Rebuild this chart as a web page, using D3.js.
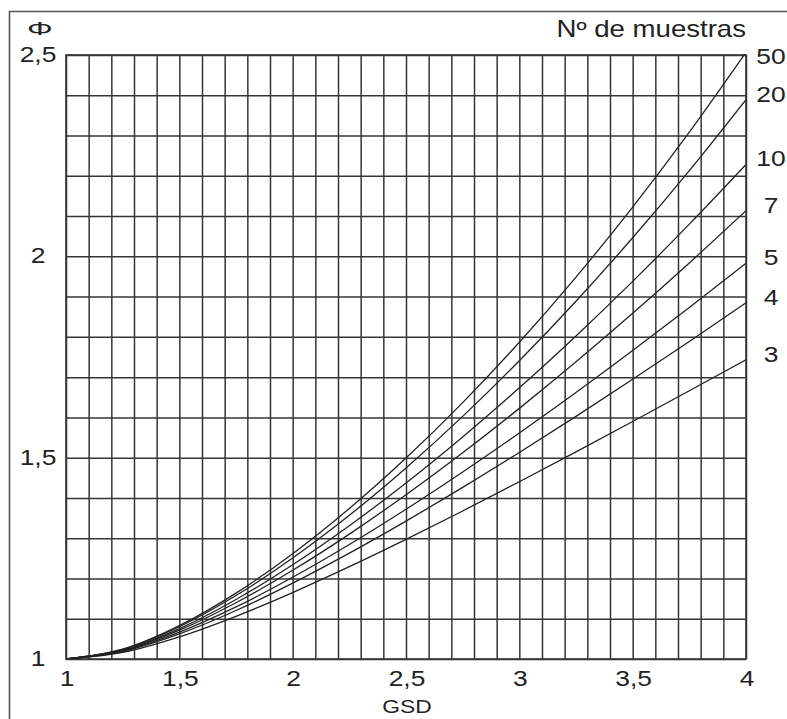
<!DOCTYPE html>
<html>
<head>
<meta charset="utf-8">
<script src="https://cdn.jsdelivr.net/npm/d3@7"></script>
<style>
  body { margin: 0; background: #fff; }
  svg { display: block; }
</style>
</head>
<body>
<svg id="chart" width="787" height="719"></svg>
<script>
// GSD values at which the curves are sampled
const gsd = [1, 1.25, 1.5, 1.75, 2, 2.25, 2.5, 2.75, 3, 3.25, 3.5, 3.75, 4];

// Φ for each number of samples
const phiN3  = [1, 1.0165, 1.0550, 1.1061, 1.1650, 1.2292, 1.2971, 1.3676, 1.4402, 1.5144, 1.5897, 1.6661, 1.7433];
const phiN4  = [1, 1.0186, 1.0622, 1.1204, 1.1883, 1.2629, 1.3425, 1.4261, 1.5130, 1.6026, 1.6946, 1.7887, 1.8846];
const phiN5  = [1, 1.0199, 1.0666, 1.1293, 1.2029, 1.2843, 1.3719, 1.4645, 1.5614, 1.6620, 1.7660, 1.8731, 1.9831];
const phiN7  = [1, 1.0213, 1.0716, 1.1398, 1.2203, 1.3102, 1.4079, 1.5122, 1.6224, 1.7379, 1.8584, 1.9836, 2.1133];
const phiN10 = [1, 1.0224, 1.0755, 1.1478, 1.2340, 1.3310, 1.4372, 1.5516, 1.6734, 1.8023, 1.9379, 2.0799, 2.2281];
const phiN20 = [1, 1.0237, 1.0801, 1.1576, 1.2508, 1.3569, 1.4745, 1.6026, 1.7408, 1.8886, 2.0461, 2.2130, 2.3893];
const phiN50 = [1, 1.0244, 1.0829, 1.1637, 1.2614, 1.3737, 1.4990, 1.6367, 1.7866, 1.9484, 2.1223, 2.3084, 2.5068];

const sampleLabels = ["3", "4", "5", "7", "10", "20", "50"];
const seriesValues = [phiN3, phiN4, phiN5, phiN7, phiN10, phiN20, phiN50];

// Axis labels
const xTickValues = [1, 1.5, 2, 2.5, 3, 3.5, 4];
const yTickValues = [1, 1.5, 2, 2.5];
const xTitle = "GSD";
const yTitle = "Φ";
const legendTitle = "Nº de muestras";

// ---- layout ----
const W = 787, H = 719;
const plot = { left: 66, right: 746, top: 55, bottom: 659 };
const ink = "#222";
const gridInk = "#363636";
const fontFamily = "'Liberation Sans', Arial, Helvetica, sans-serif";
const stretch = 1.2;   // wide grotesque look

const svg = d3.select("#chart");
svg.append("rect").attr("width", W).attr("height", H).attr("fill", "#fff");

const x = d3.scaleLinear().domain([1, 4]).range([plot.left, plot.right]);
const y = d3.scaleLinear().domain([1, 2.5]).range([plot.bottom, plot.top]);

const comma = d3.formatLocale({ decimal: ",", thousands: ".", grouping: [3], currency: ["", "€"] });
const fmt = v => comma.format("~g")(v);

// outer frame (left and top edges)
svg.append("path")
  .attr("d", `M9.5,${H} L9.5,11.5 L${W},11.5`)
  .attr("fill", "none")
  .attr("stroke", "#555")
  .attr("stroke-width", 1.6);

// fine grid every 0.1 in both directions
const xGridTicks = d3.range(0, 31).map(i => 1 + i / 10);
const yGridTicks = d3.range(0, 16).map(i => 1 + i / 10);

const gx = svg.append("g")
  .attr("transform", `translate(0,${plot.bottom})`)
  .call(d3.axisBottom(x).tickValues(xGridTicks).tickSize(-(plot.bottom - plot.top)).tickFormat(""));
const gy = svg.append("g")
  .attr("transform", `translate(${plot.left},0)`)
  .call(d3.axisLeft(y).tickValues(yGridTicks).tickSize(-(plot.right - plot.left)).tickFormat(""));
[gx, gy].forEach(g => {
  g.select(".domain").remove();
  g.selectAll(".tick line").attr("stroke", gridInk).attr("stroke-width", 1.5);
});

// plot frame
svg.append("rect")
  .attr("x", plot.left).attr("y", plot.top)
  .attr("width", plot.right - plot.left).attr("height", plot.bottom - plot.top)
  .attr("fill", "none").attr("stroke", gridInk).attr("stroke-width", 1.6);

// curves
svg.append("clipPath").attr("id", "plotClip")
  .append("rect")
  .attr("x", plot.left).attr("y", plot.top - 1)
  .attr("width", plot.right - plot.left).attr("height", plot.bottom - plot.top + 1);

const line = d3.line()
  .x(d => x(d[0]))
  .y(d => y(d[1]))
  .curve(d3.curveMonotoneX);

svg.append("g").attr("clip-path", "url(#plotClip)")
  .selectAll("path")
  .data(seriesValues)
  .join("path")
  .attr("d", vals => line(vals.map((v, i) => [gsd[i], v])))
  .attr("fill", "none")
  .attr("stroke", ink)
  .attr("stroke-width", 1.3);

// text helper with horizontal stretch
function label(txt, px, py, size, anchor, sx) {
  svg.append("text")
    .attr("transform", `translate(${px},${py}) scale(${sx || stretch},1)`)
    .attr("text-anchor", anchor)
    .attr("font-family", fontFamily)
    .attr("font-size", size)
    .attr("fill", ink)
    .text(txt);
}

// x tick labels
xTickValues.forEach(v => label(fmt(v), x(v) + 1, 686, 22, "middle"));
// y tick labels
yTickValues.forEach(v => label(fmt(v), 38, y(v) + 7, 22, "middle"));

// axis titles
label(xTitle, x(2.5) + 1, 713, 19, "middle");
label(yTitle, 40, 35, 19, "middle", 1.7);
label(legendTitle, plot.right, 37, 23, "end");

// sample-count labels at the right end of each curve
seriesValues.forEach((vals, i) => {
  const yy = Math.max(y(vals[vals.length - 1]) + 2, plot.top + 9);
  label(sampleLabels[i], 771, yy, 22, "middle");
});
</script>
</body>
</html>
